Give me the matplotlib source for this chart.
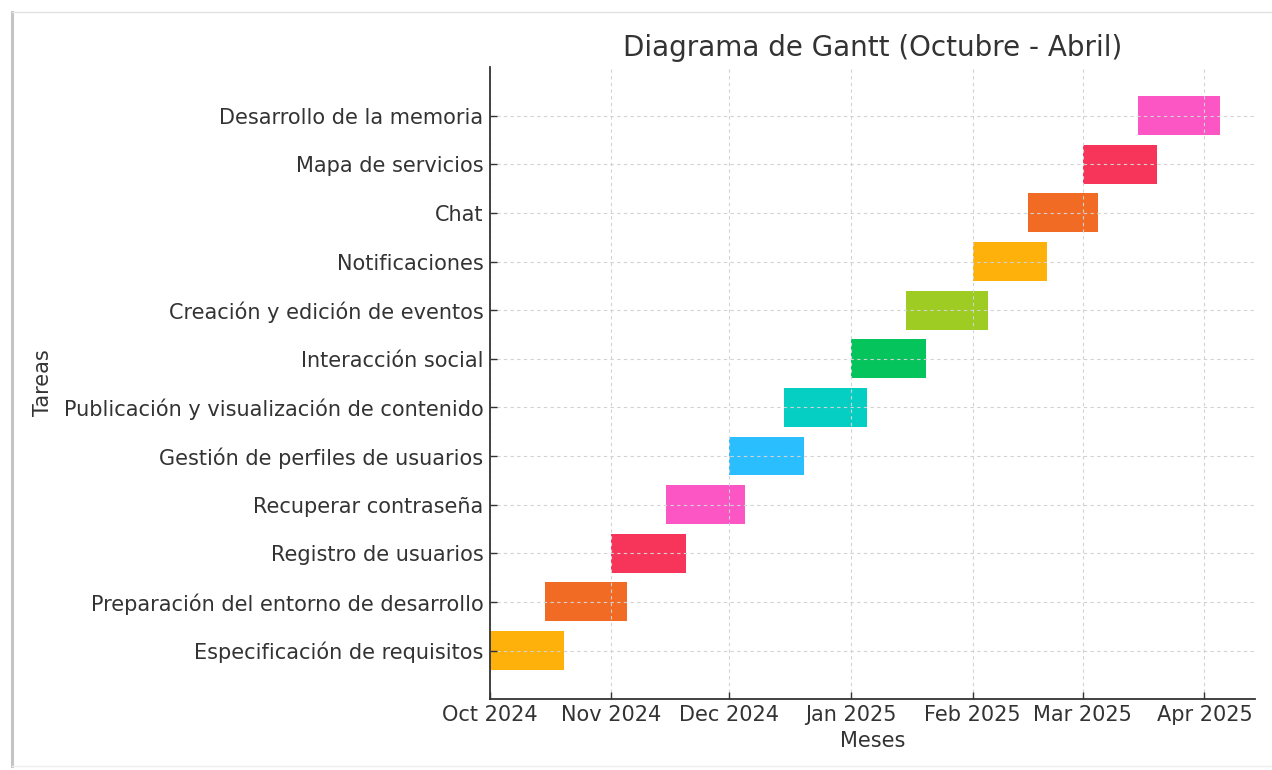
import matplotlib
matplotlib.use("Agg")
from matplotlib import pyplot as plt
import matplotlib.dates as mdates
from matplotlib.lines import Line2D
import pandas as pd

tasks = [
    "Especificación de requisitos",
    "Preparación del entorno de desarrollo",
    "Registro de usuarios",
    "Recuperar contraseña",
    "Gestión de perfiles de usuarios",
    "Publicación y visualización de contenido",
    "Interacción social",
    "Creación y edición de eventos",
    "Notificaciones",
    "Chat",
    "Mapa de servicios",
    "Desarrollo de la memoria",
]
starts = ["2024-10-01", "2024-10-15", "2024-11-01", "2024-11-15", "2024-12-01", "2024-12-15",
          "2025-01-01", "2025-01-15", "2025-02-01", "2025-02-15", "2025-03-01", "2025-03-15"]
ends = ["2024-10-20", "2024-11-05", "2024-11-20", "2024-12-05", "2024-12-20", "2025-01-05",
        "2025-01-20", "2025-02-05", "2025-02-20", "2025-03-05", "2025-03-20", "2025-04-05"]
colors = ["#FDB10A", "#F26B24", "#F7345A", "#FB56C4", "#2BBEFF", "#05CEC3",
          "#06C45C", "#9ECC22", "#FDB10A", "#F26B24", "#F7345A", "#FB56C4"]

text_col = "#333333"

fig = plt.figure(figsize=(12.72, 7.70), dpi=100)
ax = fig.add_axes([0.385, 0.092, 0.602, 0.821])

start_num = mdates.date2num(pd.to_datetime(starts))
end_num = mdates.date2num(pd.to_datetime(ends))
ypos = list(range(len(tasks)))
ax.barh(ypos, end_num - start_num, left=start_num, height=0.8, color=colors)

ax.set_yticks(ypos)
ax.set_yticklabels(tasks)
ax.set_ylim(-1, len(tasks))
ax.set_xlim(mdates.date2num(pd.Timestamp("2024-10-01")), mdates.date2num(pd.Timestamp("2025-04-14")))
ax.xaxis.set_major_locator(mdates.MonthLocator())
ax.xaxis.set_major_formatter(mdates.DateFormatter("%b %Y"))

ax.grid(True, linestyle=(0, (3, 3)), color="#d2d2d2", linewidth=0.8)
ax.spines["top"].set_visible(False)
ax.spines["right"].set_visible(False)
for sp in ["left", "bottom"]:
    ax.spines[sp].set_color(text_col)
    ax.spines[sp].set_linewidth(1.3)
ax.tick_params(direction="in", length=5, width=1, colors=text_col, labelsize=15, pad=4.5)

ax.set_xlabel("Meses", fontsize=15, color=text_col, labelpad=4)
ax.set_ylabel("Tareas", fontsize=15, color=text_col, labelpad=8)
ax.set_title("Diagrama de Gantt (Octubre - Abril)", fontsize=20, color=text_col, pad=8)

# screenshot frame
fig.add_artist(Line2D([0.0095, 0.0095], [0.005, 0.984], transform=fig.transFigure, color="#c4c4c4", linewidth=2.2))
fig.add_artist(Line2D([0.0095, 1.0], [0.984, 0.984], transform=fig.transFigure, color="#e2e2e2", linewidth=1.0))
fig.add_artist(Line2D([0.0095, 1.0], [0.005, 0.005], transform=fig.transFigure, color="#eeeeee", linewidth=1.0))

fig.savefig("out.png", dpi=100)
